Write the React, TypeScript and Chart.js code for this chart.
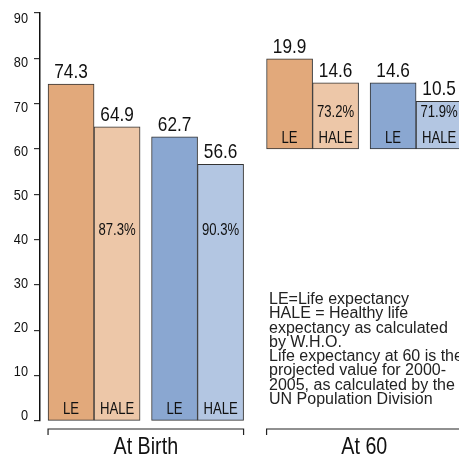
import { useEffect, useRef } from 'react';
import { Chart, registerables } from 'chart.js';

Chart.register(...registerables);

// ---- data ----
const groups = ['At Birth', 'At 60'];
const barNames = ['LE', 'HALE', 'LE', 'HALE'];
const atBirth = [74.3, 64.9, 62.7, 56.6];
const at60 = [19.9, 14.6, 14.6, 10.5];
const at60Start = 60;
const haleShareBirth: (number | null)[] = [null, 87.3, null, 90.3];
const haleShare60: (number | null)[] = [null, 73.2, null, 71.9];
const yTicks = [0, 10, 20, 30, 40, 50, 60, 70, 80, 90];
const noteLines = [
  'LE=Life expectancy',
  'HALE = Healthy life',
  'expectancy as calculated',
  'by W.H.O.',
  'Life expectancy at 60 is the',
  'projected value for 2000-',
  '2005, as calculated by the',
  'UN Population Division',
];
const barColors = ['#E2A97B', '#EDC7A8', '#8AA7D1', '#B3C6E2'];

// ---- layout units on the x scale ----
const BAR = 4;
const PAIR_GAP = 1;
const GROUP_GAP = 2;
const GROUP_W = 4 * BAR + PAIR_GAP;
const barX = (g: number, i: number) =>
  g * (GROUP_W + GROUP_GAP) + Math.floor(i / 2) * (2 * BAR + PAIR_GAP) + (i % 2) * BAR + BAR / 2;

const SANS = "'Liberation Sans', Arial, sans-serif";

function narrowText(ctx: CanvasRenderingContext2D, text: string, x: number, y: number, size: number, align: CanvasTextAlign, baseline: CanvasTextBaseline) {
  ctx.save();
  ctx.font = `${size}px ${SANS}`;
  ctx.translate(x, y);
  ctx.scale(0.82, 1);
  ctx.textAlign = align;
  ctx.textBaseline = baseline;
  ctx.fillText(text, 0, 0);
  ctx.restore();
}

export default function App() {
  const ref = useRef<HTMLCanvasElement | null>(null);

  useEffect(() => {
    document.body.style.marginRight = '0px';
    document.documentElement.style.overflow = 'hidden';
    if (!ref.current) return;
    const points: any[] = [];
    const colors: string[] = [];
    groups.forEach((_, g) => {
      const vals = g === 0 ? atBirth : at60;
      const start = g === 0 ? 0 : at60Start;
      vals.forEach((v, i) => {
        points.push({ x: barX(g, i), y: [start, start + v] });
        colors.push(barColors[i]);
      });
    });

    const labelPlugin = {
      id: 'barLabels',
      afterDatasetsDraw(chart: any) {
        const ctx = chart.ctx;
        const meta = chart.getDatasetMeta(0);
        const ys = chart.scales.y;
        ctx.save();
        ctx.fillStyle = '#111';
        meta.data.forEach((el: any, k: number) => {
          const g = Math.floor(k / 4);
          const i = k % 4;
          const vals = g === 0 ? atBirth : at60;
          const shares = g === 0 ? haleShareBirth : haleShare60;
          const { x, y, base } = el.getProps(['x', 'y', 'base'], true);
          narrowText(ctx, vals[i].toFixed(1), x, y - 6, 21, 'center', 'alphabetic');
          narrowText(ctx, barNames[i], x, base - 6, 16, 'center', 'alphabetic');
          const s = shares[i];
          if (s != null) {
            const py = g === 0 ? ys.getPixelForValue(41) : base - 32;
            narrowText(ctx, s.toFixed(1) + '%', x, py, 16, 'center', 'alphabetic');
          }
        });
        ctx.restore();
      },
    };

    const axisTextPlugin = {
      id: 'axisText',
      afterDraw(chart: any) {
        const ctx = chart.ctx;
        const xs = chart.scales.x;
        const ys = chart.scales.y;
        const area = chart.chartArea;
        ctx.save();
        // y tick labels
        ctx.fillStyle = '#111';
        yTicks.forEach((v) => {
          const py = ys.getPixelForValue(v) + (v - 40) * 0.12;
          narrowText(ctx, String(v), area.left - 12, py, 15.5, 'right', 'middle');
        });
        // group brackets + labels
        const yb = area.bottom + 8;
        ctx.strokeStyle = '#222';
        ctx.lineWidth = 1.2;
        ctx.fillStyle = '#111';
        groups.forEach((name, g) => {
          const x0 = xs.getPixelForValue(g * (GROUP_W + GROUP_GAP));
          const x1 = xs.getPixelForValue(g * (GROUP_W + GROUP_GAP) + GROUP_W);
          ctx.beginPath();
          ctx.moveTo(x0, yb + 6);
          ctx.lineTo(x0, yb);
          ctx.lineTo(x1, yb);
          ctx.lineTo(x1, yb + 6);
          ctx.stroke();
          const xc = xs.getPixelForValue(g * (GROUP_W + GROUP_GAP) + GROUP_W / 2);
          narrowText(ctx, name, xc, area.bottom + 33, 24, 'center', 'alphabetic');
        });
        ctx.restore();
      },
    };

    const chart = new Chart(ref.current, {
      type: 'bar',
      data: {
        datasets: [
          {
            data: points,
            backgroundColor: colors,
            borderColor: '#333',
            borderWidth: 1,
            borderSkipped: false,
            barPercentage: 1,
            categoryPercentage: 1,
          },
        ],
      },
      options: {
        animation: false,
        responsive: true,
        maintainAspectRatio: false,
        layout: { padding: { top: 5, right: 0, left: 0, bottom: 0 } },
        plugins: { legend: { display: false }, tooltip: { enabled: false }, title: { display: false } },
        scales: {
          x: {
            type: 'linear',
            min: -0.7,
            max: 35.73,
            offset: false,
            grid: { display: false, drawTicks: false, offset: false },
            border: { display: false },
            ticks: { display: false },
            afterFit: (s: any) => {
              s.height = 35;
            },
          },
          y: {
            type: 'linear',
            min: 0,
            max: 90,
            afterBuildTicks: (s: any) => {
              s.ticks = yTicks.map((v) => ({ value: v }));
            },
            afterFit: (s: any) => {
              s.width = 32;
            },
            grid: { display: true, drawOnChartArea: false, drawTicks: true, tickLength: 6, color: '#333', lineWidth: 1.2 },
            border: { display: true, color: '#111', width: 1.5 },
            ticks: { display: false },
          },
        },
      },
      plugins: [labelPlugin, axisTextPlugin],
    });
    return () => chart.destroy();
  }, []);

  return (
    <div style={{ position: 'relative', width: 451, height: 448, overflow: 'hidden' }}>
      <canvas ref={ref} />
      <div
        style={{
          position: 'absolute',
          left: 261,
          top: 284,
          fontFamily: SANS,
          fontSize: 16,
          lineHeight: '14.3px',
          color: '#222',
          whiteSpace: 'nowrap',
        }}
      >
        {noteLines.map((l, i) => (
          <div key={i}>{l}</div>
        ))}
      </div>
    </div>
  );
}
